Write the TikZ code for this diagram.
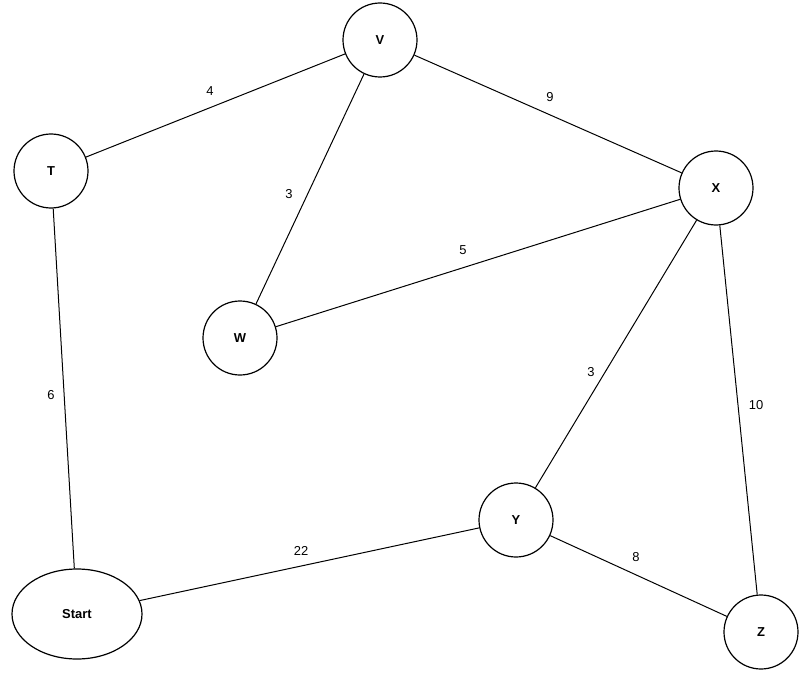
\documentclass[tikz,border=0pt]{standalone}
\usepackage{fontspec}
\setmainfont{Liberation Sans}
\usetikzlibrary{shapes.geometric}
\begin{document}
\begin{tikzpicture}[x=1bp,y=-1bp,
  n/.style={circle,draw,line width=1.2bp,minimum size=74bp,inner sep=0pt,font=\bfseries\fontsize{13}{15}\selectfont},
  e/.style={line width=1bp},
  w/.style={font=\fontsize{13}{15}\selectfont}]
\useasboundingbox (0,0) rectangle (799,675);
\node[n] (V) at (380,40) {V};
\node[n] (T) at (51,171) {T};
\node[n] (X) at (716,188) {X};
\node[n] (W) at (240,338) {W};
\node[n] (Y) at (516,520) {Y};
\node[n] (Z) at (761,632) {Z};
\node[ellipse,draw,line width=1.2bp,minimum width=130bp,minimum height=90bp,inner sep=0pt,font=\bfseries\fontsize{13}{15}\selectfont] (S) at (77,614) {Start};
\draw[e] (T) -- (V); \draw[e] (V) -- (X); \draw[e] (V) -- (W);
\draw[e] (W) -- (X); \draw[e] (T) -- (S); \draw[e] (X) -- (Y);
\draw[e] (X) -- (Z); \draw[e] (S) -- (Y); \draw[e] (Y) -- (Z);
\node[w] (l1) at (210,91) {4};
\node[w] (l2) at (550,97) {9};
\node[w] (l3) at (289,194) {3};
\node[w] (l4) at (463,250) {5};
\node[w] (l5) at (51,395) {6};
\node[w] (l6) at (591,372) {3};
\node[w] (l7) at (756,405) {10};
\node[w] (l8) at (301,551) {22};
\node[w] (l9) at (636,557) {8};
\end{tikzpicture}
\end{document}
